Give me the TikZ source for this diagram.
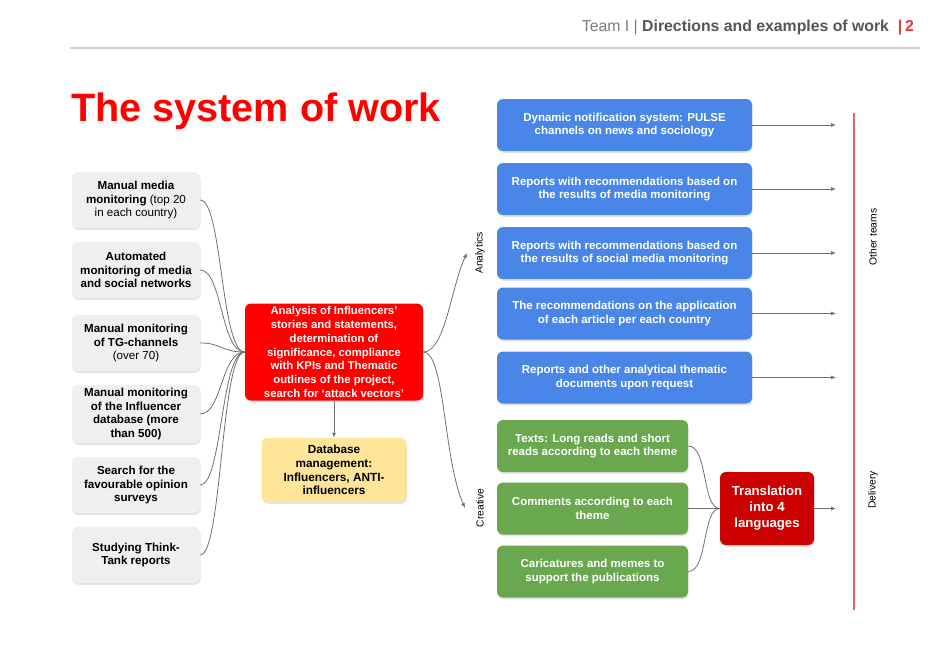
\documentclass[tikz,border=0pt]{standalone}
\usepackage{fontspec}
\setmainfont{Liberation Sans}
\usetikzlibrary{shadows,arrows.meta}
\definecolor{greybox}{HTML}{EFEFEF}
\definecolor{bluebox}{HTML}{4A86E8}
\definecolor{greenbox}{HTML}{6AA84F}
\definecolor{redbox}{HTML}{FF0000}
\definecolor{darkred}{HTML}{CC0000}
\definecolor{yellowbox}{HTML}{FFE599}
\definecolor{connc}{HTML}{707070}
\definecolor{ruleline}{HTML}{D0D0D0}
\definecolor{sideline}{HTML}{E06666}
\definecolor{hdrgrey}{HTML}{7A7A7A}
\definecolor{hdrdark}{HTML}{555555}
\definecolor{hdrred}{HTML}{E53935}
\begin{document}
\begin{tikzpicture}[x=1pt,y=-1pt,
  box/.style={rounded corners=6pt, align=center, inner sep=0pt,
    font=\bfseries\fontsize{11.5}{13.8}\selectfont,
    drop shadow={opacity=0.22, shadow xshift=0.6pt, shadow yshift=-1.8pt}},
  leftbox/.style={box, fill=greybox, text=black, minimum width=128pt, minimum height=56pt,
    font=\fontsize{11.6}{13.8}\selectfont},
  bluenode/.style={box, fill=bluebox, text=white, minimum width=255pt, minimum height=52pt},
  greennode/.style={box, fill=greenbox, text=white, minimum width=191pt, minimum height=52pt},
  conn/.style={draw=connc, line width=0.8pt},
  arr/.style={conn, -{Latex[length=5pt,width=4pt]}},
  sidelabel/.style={rotate=90, font=\fontsize{10.3}{12}\selectfont, text=black}
]
\useasboundingbox (0,0) rectangle (934,651);

% header
\node[anchor=base east, inner sep=0pt, font=\fontsize{15.8}{18}\selectfont] (hdr) at (914,31)
  {\textcolor{hdrgrey}{Team I | }\textcolor{hdrdark}{\bfseries Directions and examples of work}\hspace{9pt}\textcolor{hdrred}{\bfseries |\,2}};
\draw[ruleline, line width=1.2pt] (70,48) -- (920,48);

% title
\node[anchor=base west, inner sep=0pt, text=redbox, font=\bfseries\fontsize{39.6}{44}\selectfont] (title) at (71,121) {The system of work};

% left boxes
\node[leftbox] (l1) at (136,200) {\textbf{Manual media}\\\textbf{monitoring} (top 20\\in each country)};
\node[leftbox] (l2) at (136,270) {\textbf{Automated}\\\textbf{monitoring of media}\\\textbf{and social networks}};
\node[leftbox] (l3) at (136,343) {\textbf{Manual monitoring}\\\textbf{of TG-channels}\\(over 70)};
\node[leftbox, minimum height=58pt] (l4) at (136,414) {\textbf{Manual monitoring}\\\textbf{of the Influencer}\\\textbf{database (more}\\\textbf{than 500)}};
\node[leftbox] (l5) at (136,485) {\textbf{Search for the}\\\textbf{favourable opinion}\\\textbf{surveys}};
\node[leftbox] (l6) at (136,555) {\textbf{Studying Think-}\\\textbf{Tank reports}};

% central red box
\node[box, fill=redbox, text=white, minimum width=178pt, minimum height=97pt,
  font=\bfseries\fontsize{11.3}{13.7}\selectfont] (ana) at (334,352)
  {Analysis of Influencers'\\stories and statements,\\determination of\\significance, compliance\\with KPIs and Thematic\\outlines of the project,\\search for ‘attack vectors’};

% yellow box
\node[box, fill=yellowbox, text=black, minimum width=145pt, minimum height=64pt,
  font=\bfseries\fontsize{11.8}{13.8}\selectfont] (db) at (334,470)
  {Database\\management:\\Influencers, ANTI-\\influencers};

% blue boxes
\node[bluenode] (b1) at (624.5,125) {Dynamic notification system: PULSE\\channels on news and sociology};
\node[bluenode] (b2) at (624.5,189) {Reports with recommendations based on\\the results of media monitoring};
\node[bluenode] (b3) at (624.5,253) {Reports with recommendations based on\\the results of social media monitoring};
\node[bluenode] (b4) at (624.5,313.5) {The recommendations on the application\\of each article per each country};
\node[bluenode] (b5) at (624.5,377.5) {Reports and other analytical thematic\\documents upon request};

% green boxes
\node[greennode] (g1) at (592.5,446) {Texts: Long reads and short\\reads according to each theme};
\node[greennode] (g2) at (592.5,508.5) {Comments according to each\\theme};
\node[greennode] (g3) at (592.5,571.5) {Caricatures and memes to\\support the publications};

% translation
\node[box, fill=darkred, text=white, minimum width=94pt, minimum height=73pt,
  font=\bfseries\fontsize{13.2}{16}\selectfont] (tr) at (767,508.5) {Translation\\into 4\\languages};

% side labels
\node[sidelabel] (lana) at (480,253) {Analytics};
\node[sidelabel] (lcre) at (480,508) {Creative};
\node[sidelabel] (lother) at (873,237) {Other teams};
\node[sidelabel] (ldel) at (873,490) {Delivery};

% red vertical line
\draw[sideline, line width=1.3pt] (854,113) -- (854,610);

% free ends
\coordinate (anaEnd) at (467,253);
\coordinate (creEnd) at (465,508);
\coordinate (outx) at (836,0);

% left connectors
\foreach \n in {l1,l2,l3,l4,l5,l6}{
  \draw[conn] (\n.east) .. controls +(22,0) and +(-24,0) .. (ana.west);
}

% down arrow
\draw[arr] (ana.south) -- (db.north);

% analytics / creative
\draw[arr] (ana.east) .. controls +(22,0) and +(-16,34) .. (anaEnd);
\draw[arr] (ana.east) .. controls +(22,0) and +(-22,-50) .. (creEnd);

% blue outputs
\foreach \n in {b1,b2,b3,b4,b5}{
  \draw[arr] (\n.east) -- (\n.east -| outx);
}

% green to translation
\foreach \n in {g1,g2,g3}{
  \draw[conn] (\n.east) .. controls +(20,0) and +(-18,0) .. (tr.west);
}
\draw[arr] (tr.east) -- (tr.east -| outx);
\end{tikzpicture}
\end{document}
